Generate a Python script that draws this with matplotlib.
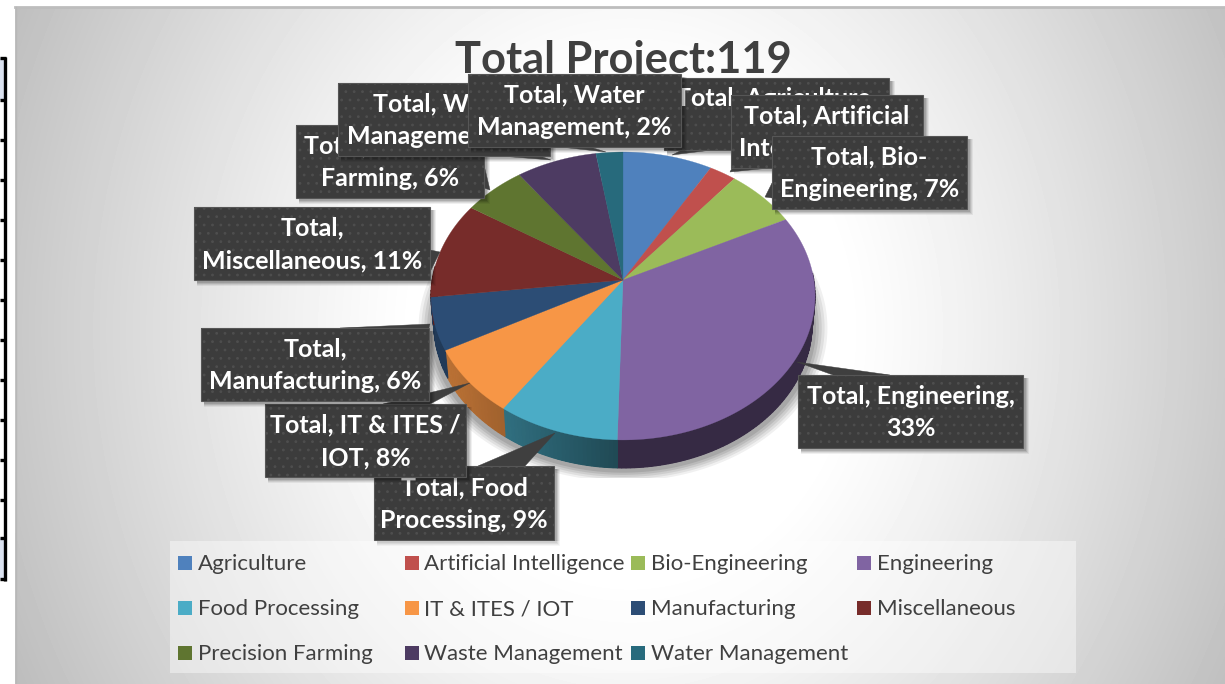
import numpy as np
import matplotlib
matplotlib.use("Agg")
import matplotlib.pyplot as plt
from matplotlib.patches import Rectangle, Polygon
from matplotlib.colors import to_rgb

plt.rcParams['font.family'] = ['Lato', 'DejaVu Sans']
plt.rcParams['hatch.linewidth'] = 0.8

# ---------- data ----------
title = "Total Project:119"
categories = ["Agriculture", "Artificial Intelligence", "Bio-Engineering", "Engineering",
              "Food Processing", "IT & ITES / IOT", "Manufacturing", "Miscellaneous",
              "Precision Farming", "Waste Management", "Water Management"]
values = [10, 3, 8, 39, 11, 9, 7, 13, 7, 9, 3]
colors = ["#4F81BD", "#C0504D", "#9BBB59", "#8064A2", "#4BACC6", "#F79646",
          "#2C4D75", "#772C2A", "#5F7530", "#4D3B62", "#276A7C"]
label_texts = ["Total, Agriculture,\n8%", "Total, Artificial\nIntelligence, 3%",
               "Total, Bio-\nEngineering, 7%", "Total, Engineering,\n33%",
               "Total, Food\nProcessing, 9%", "Total, IT & ITES /\nIOT, 8%",
               "Total,\nManufacturing, 6%", "Total,\nMiscellaneous, 11%",
               "Total, Precision\nFarming, 6%", "Total, Waste\nManagement, 7%",
               "Total, Water\nManagement, 2%"]

# ---------- layout (pixels) ----------
W, H = 1225, 684
boxes = [(664, 78, 889, 150), (731, 95, 923, 168), (772, 136, 967, 209), (798, 375, 1023, 448),
         (374, 466, 554, 540), (265, 404, 466, 477), (201, 328, 429, 401), (194, 207, 430, 280),
         (296, 125, 484, 198), (338, 83, 550, 156), (468, 74, 681, 147)]
pointers = [[(672, 155), (682, 150), (712, 150)], [(730, 172), (732, 168), (770, 168)],
            [(765, 197), (772, 183), (772, 198)], [(797, 362), (833, 375), (890, 375)],
            [(555, 433), (478, 466), (525, 466)], [(470, 383), (383, 404), (430, 404)],
            [(430, 324), (340, 328), (429, 328)], [(440, 252), (430, 250), (430, 272)],
            [(490, 190), (484, 165), (484, 188)], [(551, 160), (500, 156), (540, 156)],
            [(606, 152), (560, 147), (590, 147)]]
legend_cols = [(178, 198), (405, 424), (631, 651), (857, 877)]
legend_rows = [563, 608, 653]
table_rows = [58, 100, 140, 180, 220, 260, 300, 340, 380, 420, 460, 500, 538, 579]

fig = plt.figure(figsize=(W / 100, H / 100), dpi=100, facecolor="white")
ax = fig.add_axes([0, 0, 1, 1])
ax.set_axis_off()

# background gradient
yy, xx = np.mgrid[7:H, 15:W]
d = np.sqrt(((xx - 630) / 610.0) ** 2 + ((yy - 330) / 700.0) ** 2)
v = 1 - 0.25 * (np.clip(d - 0.35, 0, None) / 0.75) ** 1.15
ax.imshow(v, cmap="gray", vmin=0, vmax=1, extent=(15, W, H, 7), aspect="auto",
          interpolation="bilinear", zorder=0)
ax.plot([15, W], [7, 7], color="#bdbdbd", lw=2, zorder=1)
ax.plot([15.5, 15.5], [7, H], color="#b8b8b8", lw=1, zorder=1)

# fragment of a table at the left edge
ax.add_patch(Rectangle((0, table_rows[0]), 3.5, 42, fc="#dbe2f0", ec="none", zorder=1))
ax.add_patch(Rectangle((0, table_rows[-2]), 3.5, 40, fc="#dbe2f0", ec="none", zorder=1))
ax.plot([4.6, 4.6], [table_rows[0] - 1, table_rows[-1] + 2], color="black", lw=2.4, zorder=2,
        solid_capstyle="butt")
for r in table_rows:
    ax.plot([0, 6], [r, r], color="black", lw=2.4, zorder=2, solid_capstyle="butt")

# pie geometry: perspective projection of a disc
CX, CY, A, B, K, DEPTH, TAPER = 623, 280, 142.2, 190.8, 0.111, 28, 0.985


def project(angle):
    x, y = np.sin(angle), np.cos(angle)
    w = 1 + K * y
    return CX + B * x / w, CY - A * y / w


fractions = np.array(values, dtype=float) / np.sum(values)
edges = 2 * np.pi * np.concatenate([[0], np.cumsum(fractions)])

# soft drop shadow clipped to the chart's plot box
clip = Rectangle((415, 150), 415, 328, transform=ax.transData)
t = np.linspace(0, 2 * np.pi, 240)
rx, ry = project(t)
for s, alpha in zip([1.065, 1.05, 1.035, 1.02, 1.005], [0.06, 0.07, 0.08, 0.09, 0.1]):
    p = Polygon(np.c_[CX + (rx - CX) * s, 328 + (ry - 296) * s], fc="black", ec="none",
                alpha=alpha, zorder=3)
    ax.add_patch(p)
    p.set_clip_path(clip)

# side wall
for lo, hi, col in zip(edges[:-1], edges[1:], colors):
    base = np.array(to_rgb(col))
    a0, a1 = max(lo, np.pi / 2 - 0.05), min(hi, 3 * np.pi / 2 + 0.1)
    if a1 <= a0:
        continue
    steps = np.linspace(a0, a1, max(2, int((a1 - a0) / 0.02)))
    sx, sy = project(steps)
    bx, by = CX + (sx - CX) * TAPER, sy + DEPTH
    shade = 0.42 + 0.33 * np.clip((620 - sx) / 170.0, 0, 1)
    ax.add_patch(Polygon(np.vstack([np.c_[sx, sy], np.c_[bx, by][::-1]]),
                         fc=tuple(base * shade.mean()), ec="none", zorder=4))
    for i in range(len(steps) - 1):
        fc = tuple(base * 0.5 * (shade[i] + shade[i + 1]))
        ax.add_patch(Polygon([(sx[i], sy[i]), (sx[i + 1], sy[i + 1]), (bx[i + 1], by[i + 1]),
                              (bx[i], by[i])], fc=fc, ec=fc, lw=0.8, zorder=4))

# top surface
for lo, hi, col in zip(edges[:-1], edges[1:], colors):
    arc = np.linspace(lo, hi, max(3, int((hi - lo) / 0.01)))
    px, py = project(arc)
    ax.add_patch(Polygon(np.vstack([[CX, CY], np.c_[px, py]]), fc=col, ec=col, lw=0.2, zorder=5))

# title
ax.text(623, 60, title, ha="center", va="center", fontsize=31.2, fontweight="bold",
        color="#404040", zorder=6)

# callouts
z = 7
for txt, (x0, y0, x1, y1), tri in zip(label_texts, boxes, pointers):
    for o, al in zip([6, 5, 4, 3], [0.06, 0.08, 0.1, 0.12]):
        ax.add_patch(Rectangle((x0 + 3, y0 + 3), x1 - x0 + o - 3, y1 - y0 + o - 3, fc="black",
                               ec="none", alpha=al, zorder=z))
    ax.add_patch(Polygon(tri, fc="#3f3f3f", ec="#3f3f3f", lw=0.3, zorder=z + 0.1))
    ax.add_patch(Rectangle((x0, y0), x1 - x0, y1 - y0, fc="#3c3c3c", ec="#4e4e4e",
                           hatch="..", lw=0, zorder=z + 0.2))
    ax.add_patch(Rectangle((x0, y0), x1 - x0, y1 - y0, fc="none", ec="#565656", lw=0.8,
                           zorder=z + 0.3))
    ax.text((x0 + x1) / 2, (y0 + y1) / 2 + 1, txt, ha="center", va="center", fontsize=18,
            fontweight="bold", color="white", linespacing=1.5, zorder=z + 0.4)
    z += 1

# legend
ax.add_patch(Rectangle((170, 541), 906, 132, fc="white", ec="none", alpha=0.42, zorder=30))
for i, (name, col) in enumerate(zip(categories, colors)):
    sx_, tx = legend_cols[i % 4]
    ry_ = legend_rows[i // 4]
    ax.add_patch(Rectangle((sx_, ry_ - 7), 14, 14, fc=col, ec="none", zorder=31))
    ax.text(tx, ry_ + 1, name, ha="left", va="center", fontsize=16, color="#404040", zorder=31)

ax.set_xlim(0, W)
ax.set_ylim(H, 0)
fig.savefig("out.png", dpi=100)
